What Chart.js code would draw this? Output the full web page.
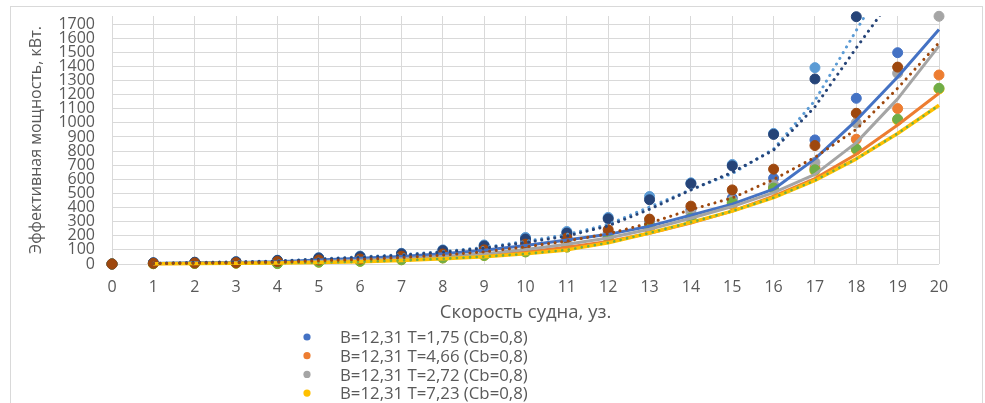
<!DOCTYPE html>
<html>
<head>
<meta charset="utf-8">
<script src="https://cdn.jsdelivr.net/npm/chart.js@4.4.0/dist/chart.umd.min.js"></script>
<style>
  html, body { margin: 0; padding: 0; background: #ffffff; overflow: hidden; }
  #frame { position: absolute; left: 10px; top: 6px; width: 973px; height: 430px; border: 1px solid #d9d9d9; box-sizing: border-box; }
  #wrap { position: absolute; left: 0; top: 0; width: 985px; height: 403px; }
</style>
</head>
<body>
<div id="frame"></div>
<div id="wrap"><canvas id="c" width="985" height="403"></canvas></div>
<script>
// ---- data ----
const speedKnots = [0,1,2,3,4,5,6,7,8,9,10,11,12,13,14,15,16,17,18,19,20];
const yTickValues = [0,100,200,300,400,500,600,700,800,900,1000,1100,1200,1300,1400,1500,1600,1700];
const legendLabels = [
  'B=12,31 T=1,75 (Cb=0,8)',
  'B=12,31 T=4,66 (Cb=0,8)',
  'B=12,31 T=2,72 (Cb=0,8)',
  'B=12,31 T=7,23 (Cb=0,8)'
];
const xTitle = 'Скорость судна, уз.';
const yTitle = 'Эффективная мощность, кВт.';

// measured points (markers), one value per speed 0..20 (null = outside the visible range)
const power1 = [0, 7, 9, 12, 20, 35, 44, 62, 82, 112, 150, 190, 222, 292, 384, 467, 608, 879, 1174, 1497, null];
const power2 = [0, 3, 5, 7, 10, 17, 24, 36, 50, 70, 100, 135, 185, 250, 330, 420, 540, 680, 884, 1101, 1339];
const power3 = [0, 5, 6, 8, 14, 22, 30, 45, 60, 85, 120, 160, 207, 285, 363, 450, 561, 720, 1000, 1351, 1755];
const power4 = [0, 2, 4, 6, 3, 13, 19, 30, 43, 60, 86, 120, 185, 265, 320, 430, 530, 660, 810, 1020, 1240];
const power5 = [0, 9, 13, 17, 27, 45, 56, 76, 100, 135, 188, 230, 330, 478, 575, 705, 925, 1391, null, null, null];
const power6 = [0, 2, 4, 6, 3, 13, 19, 30, 43, 60, 86, 120, 190, 271, 325, 436, 538, 667, 815, 1026, 1245];
const power7 = [0, 8, 12, 15, 25, 42, 52, 72, 95, 128, 177, 219, 320, 455, 568, 695, 918, 1311, 1752, null, null];
const power8 = [0, 5, 7, 9, 17, 28, 35, 55, 71, 100, 141, 184, 243, 318, 410, 525, 672, 839, 1068, 1395, null];

// trend lines (moving average), values at speeds 1..20 (or 1..19)
const trendSpeeds = [1,2,3,4,5,6,7,8,9,10,11,12,13,14,15,16,17,18,19,20];
const trend1 = [4, 8, 11, 16, 28, 40, 53, 72, 97, 131, 170, 210, 268, 345, 424, 530, 745, 1018, 1325, 1662];
const trend2 = [2, 4, 6, 9, 14, 21, 30, 43, 60, 85, 118, 160, 218, 290, 375, 480, 605, 778, 985, 1210];
const trend3 = [3, 6, 7, 11, 18, 26, 38, 53, 73, 103, 140, 184, 246, 324, 407, 506, 635, 860, 1170, 1545];
const trend4 = [1, 3, 5, 7, 10, 16, 25, 37, 52, 72, 100, 150, 220, 295, 375, 470, 592, 745, 925, 1125];
const trend5 = [5, 11, 15, 22, 36, 50, 66, 88, 118, 160, 209, 280, 404, 527, 640, 815, 1158, 1655, 2150];
const trend6 = [1, 3, 5, 7, 10, 16, 25, 37, 52, 72, 100, 150, 220, 295, 375, 470, 592, 745, 925, 1125];
const trend7 = [4, 10, 14, 20, 34, 47, 62, 84, 112, 153, 198, 270, 388, 525, 650, 807, 1114, 1531, 1935];
const trend8 = [3, 6, 8, 13, 23, 32, 45, 63, 86, 121, 163, 214, 290, 385, 468, 599, 756, 954, 1245, 1568];

// ---- styles ----
const FONT = '"Open Sans", "DejaVu Sans", sans-serif';
const TEXT = '#595959';
const colors = ['#4472C4', '#ED7D31', '#A5A5A5', '#FFC000', '#5B9BD5', '#70AD47', '#264478', '#9E480E'];
const markerSets = [power1, power2, power3, power4, power5, power6, power7, power8];
const trendSets = [trend1, trend2, trend3, trend4, trend5, trend6, trend7, trend8];

function pts(xs, ys) { return ys.map((v, i) => ({x: xs[i], y: v})); }

const datasets = [];
markerSets.forEach((vals, i) => {
  datasets.push({
    type: 'scatter',
    label: legendLabels[i] || ('series ' + (i + 1)),
    data: pts(speedKnots, vals),
    showLine: false,
    pointRadius: 5,
    pointHoverRadius: 5,
    pointBackgroundColor: colors[i],
    pointBorderColor: colors[i],
    pointBorderWidth: 1,
    clip: false,
    order: 100 - i
  });
});
trendSets.forEach((vals, i) => {
  const dotted = i >= 4;
  datasets.push({
    type: 'line',
    label: 'trend ' + (i + 1),
    data: pts(trendSpeeds, vals),
    showLine: true,
    fill: false,
    tension: 0,
    pointRadius: 0,
    borderColor: colors[i],
    borderWidth: dotted ? (i === 5 ? 2.6 : 3) : (i === 3 ? 3.5 : 3),
    borderDash: dotted ? [0.1, 6.5] : [],
    borderCapStyle: dotted ? 'round' : 'butt',
    borderJoinStyle: 'round',
    clip: {left: 2, right: 2, top: 0, bottom: 4},
    order: 50 - i
  });
});

const stackedLegend = {
  id: 'stackedLegend',
  afterDraw(chart) {
    const ctx = chart.ctx;
    ctx.save();
    ctx.font = '16.8px ' + FONT;
    ctx.textBaseline = 'middle';
    ctx.textAlign = 'left';
    legendLabels.forEach((t, i) => {
      const y = 337 + i * 18.7;
      ctx.beginPath();
      ctx.arc(307, y, 3.6, 0, Math.PI * 2);
      ctx.fillStyle = colors[i];
      ctx.fill();
      ctx.fillStyle = TEXT;
      ctx.fillText(t, 340, y + 1.5);
    });
    ctx.restore();
  }
};

new Chart(document.getElementById('c'), {
  data: { datasets },
  plugins: [stackedLegend],
  options: {
    responsive: false,
    animation: false,
    events: [],
    layout: { padding: { top: 16, right: 46, left: 0, bottom: 0 } },
    plugins: { legend: { display: false }, tooltip: { enabled: false } },
    scales: {
      x: {
        type: 'linear',
        min: speedKnots[0],
        max: speedKnots[speedKnots.length - 1],
        afterBuildTicks: s => { s.ticks = speedKnots.map(v => ({value: v})); },
        ticks: { autoSkip: false, maxRotation: 0, padding: 14, color: TEXT, font: { family: FONT, size: 16 }, callback: v => String(v) },
        grid: { color: '#d9d9d9', lineWidth: 1, drawTicks: false },
        border: { display: false },
        title: { display: true, text: xTitle, color: TEXT, font: { family: FONT, size: 18.5 }, padding: { top: 0, bottom: 79 } },
        afterFit: s => { s.height = 139; }
      },
      y: {
        type: 'linear',
        min: 0,
        max: 1757,
        afterBuildTicks: s => { s.ticks = yTickValues.map(v => ({value: v})); },
        ticks: { autoSkip: false, padding: 17, color: TEXT, font: { family: FONT, size: 16 }, callback: v => String(v) },
        grid: { color: '#d9d9d9', lineWidth: 1, drawTicks: false },
        border: { display: false },
        title: { display: true, text: yTitle, color: TEXT, font: { family: FONT, size: 16 }, padding: { top: 27, bottom: 0 } },
        afterFit: s => { s.width = 112; s.paddingTop = 0; s.paddingBottom = 0; }
      }
    }
  }
});
</script>
</body>
</html>
